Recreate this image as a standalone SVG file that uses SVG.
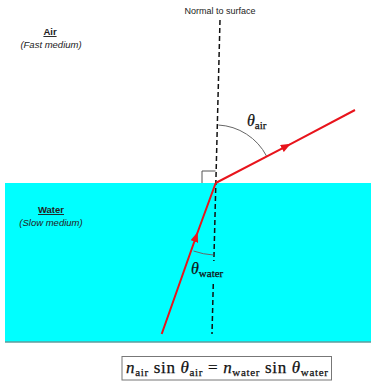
<svg xmlns="http://www.w3.org/2000/svg" width="371" height="382" viewBox="0 0 371 382">
<style>
.lbl{font-family:"Liberation Sans",Arial,sans-serif;font-size:9.5px;fill:#222;text-anchor:middle}
.b{font-weight:bold;text-decoration:underline}
.it{font-style:italic}
.math{font-family:"Liberation Serif","Times New Roman",serif;fill:#111;stroke:#111;stroke-width:0.25}
.ray{stroke:#e8141c;stroke-width:2;fill:none}
.arc{stroke:#666;stroke-width:1;fill:none}
</style>
<defs>
<marker id="arr" viewBox="0 0 10 8" refX="8" refY="4" markerWidth="10" markerHeight="8" markerUnits="userSpaceOnUse" orient="auto">
<path d="M0 0 L10 4 L0 8 Z" fill="#e8141c"/>
</marker>
</defs>
<rect width="371" height="382" fill="#fff"/>
<g id="water">
<rect x="5" y="183" width="366" height="159" fill="#00ffff"/>
<line x1="5" y1="342" x2="371" y2="342" stroke="#5f9c9c" stroke-width="1.5"/>
</g>
<g id="labels">
<text class="lbl b" x="50" y="35">Air</text>
<text class="lbl it" x="51" y="48">(Fast medium)</text>
<text class="lbl b" x="51" y="213">Water</text>
<text class="lbl it" x="51" y="226">(Slow medium)</text>
<text class="lbl" x="220" y="14" style="font-size:9px">Normal to surface</text>
</g>
<g id="connectors">
<line id="normal" x1="220" y1="20" x2="212" y2="334" stroke="#111" stroke-width="1.5" stroke-dasharray="5,3"/>
<path id="right-angle" d="M202 183 V171 H215.5" fill="none" stroke="#555" stroke-width="1"/>
<path id="incident" class="ray" d="M161.7 334 L197 234 L215.7 183" marker-mid="url(#arr)"/>
<path id="refracted" class="ray" d="M215.7 183 L289 144.8 L355 110" marker-mid="url(#arr)"/>
<path id="arc-air" class="arc" d="M218.3 125 A58 58 0 0 1 266.5 156"/>
<path id="arc-water" class="arc" d="M193.5 251 A72 72 0 0 0 213.5 255"/>
</g>
<g id="angle-labels">
<text class="math" x="247" y="126" font-size="16"><tspan font-style="italic">θ</tspan><tspan font-size="11" dy="3">air</tspan></text>
<rect x="189" y="261" width="42" height="20" fill="#00ffff"/>
<text class="math" x="191" y="274" font-size="16"><tspan font-style="italic">θ</tspan><tspan font-size="11" dy="3">water</tspan></text>
</g>
<g id="equation">
<rect x="122" y="356.5" width="209.5" height="23.5" fill="#fff" stroke="#777" stroke-width="1"/>
<text class="math" x="126" y="373" font-size="17" textLength="202" lengthAdjust="spacing"><tspan font-style="italic">n</tspan><tspan font-size="11" dy="3">air</tspan><tspan dy="-3"> sin </tspan><tspan font-style="italic">θ</tspan><tspan font-size="11" dy="3">air</tspan><tspan dy="-3"> = </tspan><tspan font-style="italic">n</tspan><tspan font-size="11" dy="3">water</tspan><tspan dy="-3"> sin </tspan><tspan font-style="italic">θ</tspan><tspan font-size="11" dy="3">water</tspan></text>
</g>
</svg>
